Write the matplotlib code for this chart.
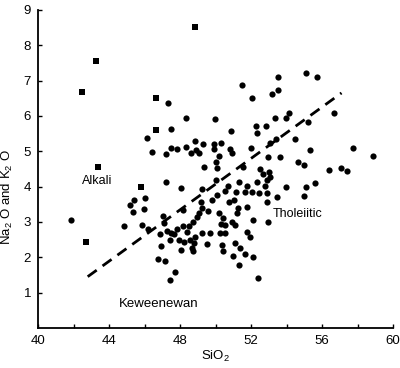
import matplotlib
matplotlib.use("Agg")
import matplotlib.pyplot as plt

# circles: SiO2 and Na2O + K2O
circle_sio2 = [
    51.49, 53.52, 55.10, 55.72, 52.06, 53.52, 53.18, 47.32, 48.34, 49.97,
    54.14, 53.97, 53.35, 56.68, 55.21, 47.49, 50.87, 52.28, 52.85, 52.34,
    46.14, 54.48, 53.41, 48.85, 53.07, 46.42, 47.21, 47.49, 47.83, 48.34,
    48.62, 48.90, 49.07, 49.30, 49.92, 49.92, 50.31, 50.82, 50.93, 52.00,
    55.32, 57.75, 50.20, 52.96, 53.63, 58.87, 47.21, 49.35, 50.03, 50.08,
    51.55, 52.51, 54.65, 54.99, 56.39, 57.07, 57.41, 52.68, 53.01, 53.07,
    52.90, 50.03, 51.32, 55.61, 48.06, 49.24, 50.70, 51.77, 52.34, 52.79,
    53.97, 55.10, 50.08, 50.54, 49.80, 51.15, 51.66, 52.06, 52.45, 52.90,
    50.76, 51.04, 49.18, 49.24, 49.07, 48.96, 52.90, 53.46, 54.99, 48.17,
    49.58, 51.27, 51.77, 50.20, 51.21, 50.42, 50.93, 51.10, 52.11, 52.96,
    48.73, 48.51, 48.17, 47.83, 50.31, 50.54, 48.39, 49.24, 49.69, 50.25,
    50.54, 48.85, 47.94, 48.23, 48.56, 48.79, 49.52, 51.77, 51.94, 48.68,
    48.73, 48.06, 50.37, 50.42, 51.10, 51.38, 50.99, 51.66, 52.11, 51.32,
    52.39, 47.72, 47.44, 45.18, 45.41, 46.03, 45.35, 45.97, 44.85, 45.86,
    46.20, 47.04, 47.10, 46.87, 47.27, 47.49, 47.66, 46.93, 47.44, 46.76,
    47.15, 41.86,
]
circle_alk = [
    6.88, 7.10, 7.22, 7.10, 6.51, 6.73, 6.62, 6.37, 5.94, 5.91,
    6.08, 5.94, 5.94, 6.08, 5.83, 5.63, 5.57, 5.71, 5.71, 5.52,
    5.37, 5.35, 5.35, 5.29, 5.23, 4.98, 4.92, 5.09, 5.06, 5.12,
    4.95, 5.03, 4.95, 5.20, 5.20, 5.06, 5.23, 5.06, 4.95, 5.09,
    5.03, 5.09, 4.86, 4.84, 4.84, 4.86, 4.13, 4.55, 4.69, 4.52,
    4.55, 4.50, 4.69, 4.61, 4.47, 4.52, 4.44, 4.35, 4.41, 4.27,
    4.18, 4.18, 4.13, 4.10, 3.96, 3.93, 4.01, 4.01, 4.13, 4.01,
    3.99, 3.99, 3.76, 3.87, 3.62, 3.84, 3.84, 3.84, 3.82, 3.82,
    3.56, 3.62, 3.56, 3.39, 3.25, 3.14, 3.56, 3.70, 3.73, 3.33,
    3.31, 3.39, 3.42, 3.25, 3.25, 3.11, 3.00, 2.91, 3.05, 3.00,
    3.00, 2.88, 2.88, 2.80, 2.94, 2.91, 2.71, 2.68, 2.68, 2.68,
    2.68, 2.57, 2.48, 2.43, 2.48, 2.40, 2.37, 2.71, 2.57, 2.26,
    2.17, 2.20, 2.34, 2.17, 2.40, 2.26, 2.03, 2.09, 2.00, 1.78,
    1.41, 1.58, 1.35, 3.48, 3.62, 3.67, 3.28, 3.36, 2.88, 2.91,
    2.80, 3.16, 2.97, 2.65, 2.74, 2.68, 2.65, 2.31, 2.48, 1.95,
    1.89, 3.05,
]

# squares
square_sio2 = [42.48, 43.27, 43.38, 48.85, 46.65, 46.65, 45.80, 42.70]
square_alk = [6.68, 7.56, 4.55, 8.52, 6.51, 5.60, 3.99, 2.43]

# dividing line
line_sio2 = [42.8, 57.1]
line_alk = [1.45, 6.65]

x_ticks = [40, 44, 48, 52, 56, 60]
y_ticks = [1, 2, 3, 4, 5, 6, 7, 8, 9]


def draw():
    plt.rcParams["font.family"] = ["Liberation Sans", "DejaVu Sans"]
    plt.rcParams["mathtext.default"] = "regular"

    fig = plt.figure(figsize=(4.0, 3.68), dpi=100)
    ax = fig.add_axes([0.095, 0.109, 0.8875, 0.864])

    ax.scatter(circle_sio2, circle_alk, s=20, marker="o", color="black",
               linewidths=0, zorder=3)
    ax.scatter(square_sio2, square_alk, s=16, marker="s", color="black",
               linewidths=0, zorder=3)
    ax.plot(line_sio2, line_alk, color="black", lw=2.0,
            linestyle=(0, (4, 2.6)), zorder=2)

    ax.text(42.5, 4.15, "Alkali", fontsize=9, va="center")
    ax.text(53.2, 3.22, "Tholeiitic", fontsize=9, va="center")
    ax.text(44.55, 0.67, "Keweenewan", fontsize=9.5, va="center")

    ax.set_xlim(40, 60)
    ax.set_ylim(0, 9)
    ax.set_xticks(x_ticks)
    ax.set_xticks(range(40, 61, 2), minor=True)
    ax.set_yticks(y_ticks)
    ax.tick_params(direction="in", length=3, width=1, labelsize=9.5,
                   pad=5)
    ax.tick_params(which="minor", direction="in", length=3, width=1)

    for side in ["top", "right"]:
        ax.spines[side].set_visible(False)
    for side in ["left", "bottom"]:
        ax.spines[side].set_linewidth(1.3)

    ax.set_xlabel("SiO$_2$", fontsize=9.5)
    ax.xaxis.set_label_coords(0.5, -0.066)
    ax.set_ylabel("Na$_2$ O and K$_2$ O", fontsize=9.5)
    ax.yaxis.set_label_coords(-0.065, 0.41)

    fig.savefig("out.png", dpi=100)


if __name__ == "__main__":
    draw()
